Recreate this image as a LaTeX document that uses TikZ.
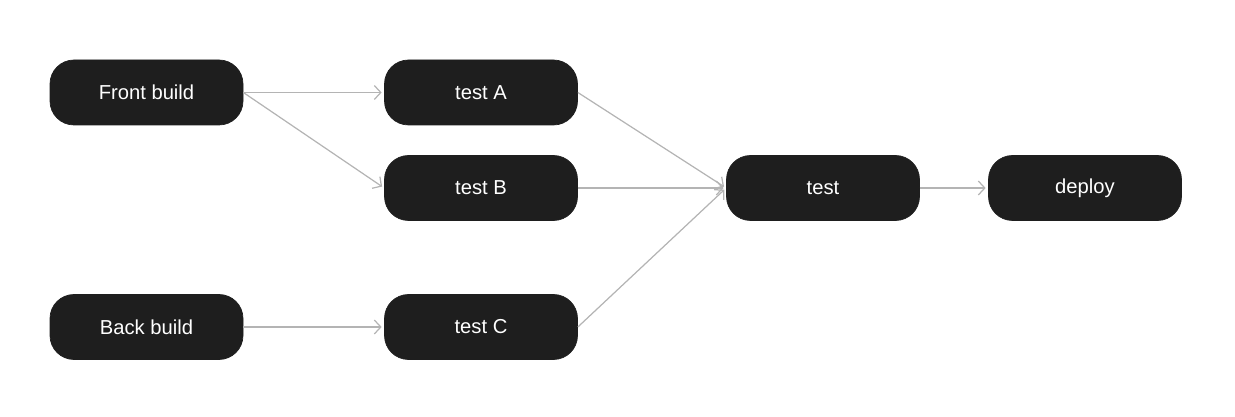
\documentclass[tikz,border=0pt]{standalone}
\usepackage{fontspec}
\setmainfont{Liberation Sans}
\usepackage{xcolor}
\usepackage{tikz}
\usetikzlibrary{arrows.meta}

\definecolor{boxfill}{HTML}{1E1E1E}
\definecolor{edgegray}{HTML}{B4B4B4}

\begin{document}
\begin{tikzpicture}[
  job/.style={draw=boxfill,fill=boxfill,text=white,rounded corners=0.48cm,minimum width=3.86cm,minimum height=1.3cm,font=\fontsize{11.5}{13}\selectfont,align=center},
  ar/.style={-{Straight Barb[length=1.3mm,width=2.8mm]},draw=edgegray,line width=0.7pt,shorten >=0.05cm}]
\useasboundingbox (0,0) rectangle (24.7,8.34);
\node[job] (fb) at (2.93,6.49)  {Front build};
\node[job] (bb) at (2.93,1.8)   {Back build};
\node[job] (ta) at (9.62,6.49)  {test A};
\node[job] (tb) at (9.62,4.58)  {test B};
\node[job] (tc) at (9.62,1.8)   {test C};
\node[job] (t)  at (16.46,4.58) {test};
\node[job] (d)  at (21.70,4.58) {deploy};
\draw[ar] (fb.east) -- (ta.west); \draw[ar] (fb.east) -- (tb.west);
\draw[ar] (bb.east) -- (tc.west);
\draw[ar] (ta.east) -- (t.west); \draw[ar] (tb.east) -- (t.west); \draw[ar] (tc.east) -- (t.west);
\draw[ar] (t.east) -- (d.west);
\end{tikzpicture}
\end{document}
